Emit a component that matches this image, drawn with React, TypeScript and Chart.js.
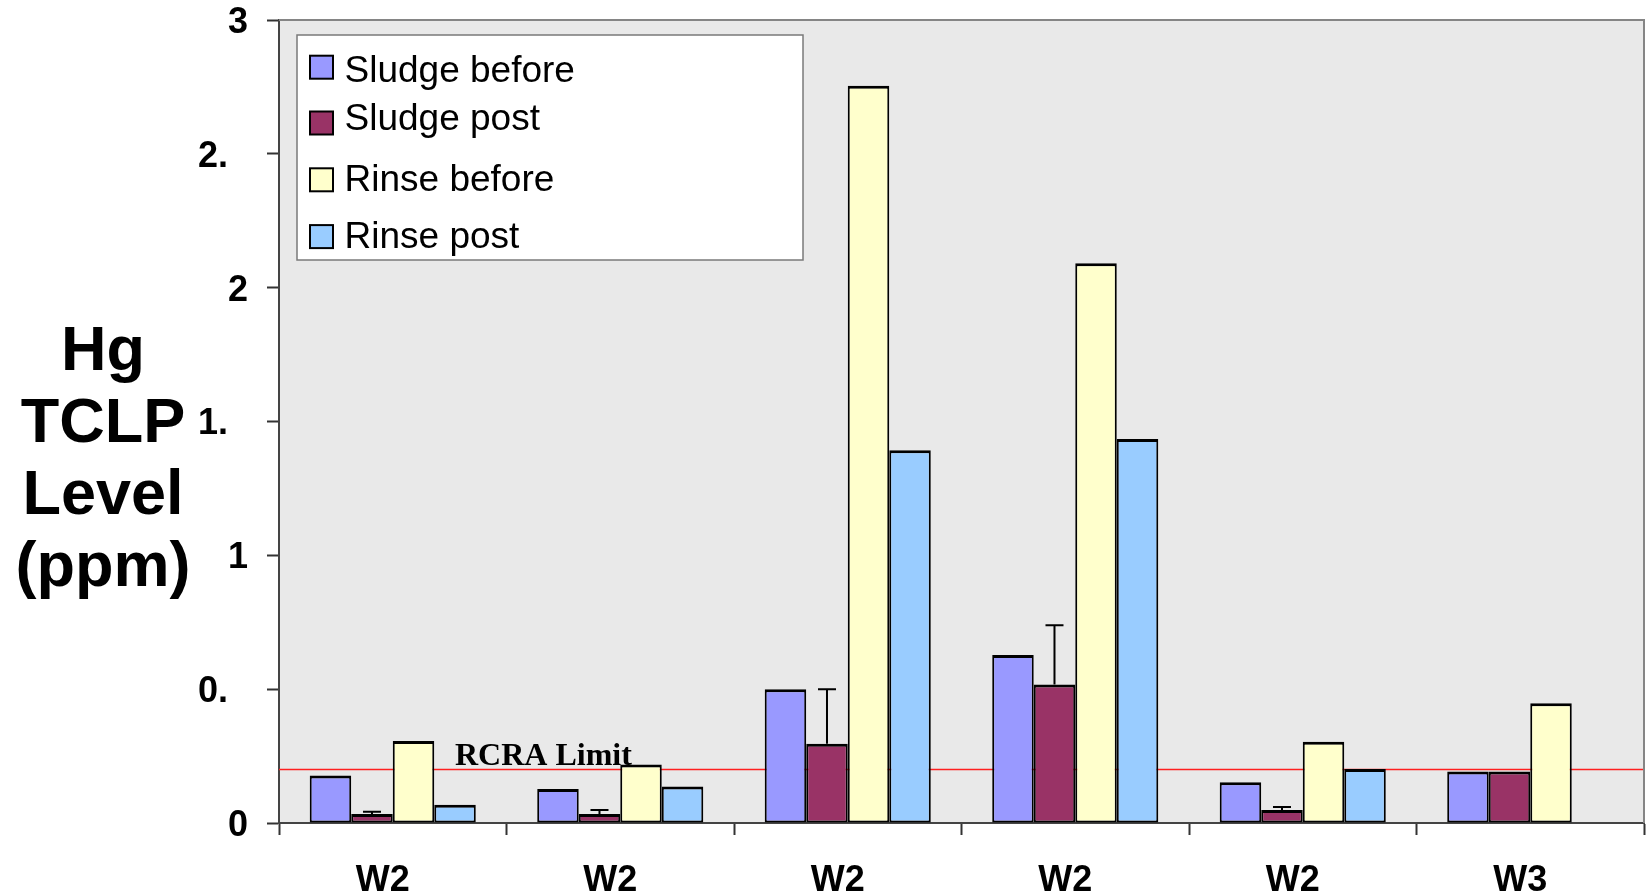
import React, { useEffect, useRef } from "react";
import { Chart, registerables } from "chart.js";

Chart.register(...registerables);

const CATEGORIES = ["W2", "W2", "W2", "W2", "W2", "W3"];
const SERIES_NAMES = ["Sludge before", "Sludge post", "Rinse before", "Rinse post"];
const SLUDGE_BEFORE = [0.177, 0.127, 0.5, 0.628, 0.152, 0.192];
const SLUDGE_POST = [0.034, 0.034, 0.296, 0.517, 0.049, 0.192];
const SLUDGE_POST_ERR = [0.008, 0.015, 0.204, 0.222, 0.011, 0];
const RINSE_BEFORE = [0.306, 0.219, 2.754, 2.091, 0.304, 0.447];
const RINSE_POST = [0.068, 0.136, 1.393, 1.435, 0.202, null];
const Y_TICK_LABELS = ["0", "0.", "1", "1.", "2", "2.", "3"];
const Y_TITLE_LINES = ["Hg", "TCLP", "Level", "(ppm)"];
const RCRA_LIMIT = 0.2;
const RCRA_LABEL = "RCRA Limit";

const COLORS = ["#9999FF", "#993366", "#FFFFCC", "#99CCFF"];
const SANS = "'Liberation Sans', Arial, sans-serif";
const SERIF = "'Liberation Serif', 'Times New Roman', serif";

const customPlugin = {
  id: "custom",
  beforeDraw(chart: any) {
    const { ctx, chartArea: ca } = chart;
    ctx.save();
    ctx.fillStyle = "#FFFFFF";
    ctx.fillRect(0, 0, chart.width, chart.height);
    ctx.fillStyle = "#E9E9E9";
    ctx.fillRect(ca.left, ca.top, ca.right - ca.left, ca.bottom - ca.top);
    ctx.restore();
  },
  beforeDatasetsDraw(chart: any) {
    const { ctx, chartArea: ca, scales } = chart;
    const y = scales.y.getPixelForValue(RCRA_LIMIT);
    ctx.save();
    ctx.strokeStyle = "#FF2020";
    ctx.lineWidth = 1.6;
    ctx.beginPath();
    ctx.moveTo(ca.left, y);
    ctx.lineTo(ca.right, y);
    ctx.stroke();
    ctx.restore();
  },
  afterDatasetsDraw(chart: any) {
    const { ctx, chartArea: ca, scales } = chart;
    // error bars on "Sludge post"
    const meta = chart.getDatasetMeta(1);
    ctx.save();
    ctx.strokeStyle = "#000000";
    ctx.lineWidth = 2;
    meta.data.forEach((bar: any, i: number) => {
      const err = SLUDGE_POST_ERR[i];
      if (!err) return;
      const top = scales.y.getPixelForValue(SLUDGE_POST[i] + err);
      ctx.beginPath();
      ctx.moveTo(bar.x, bar.y);
      ctx.lineTo(bar.x, top);
      ctx.moveTo(bar.x - 9, top);
      ctx.lineTo(bar.x + 9, top);
      ctx.stroke();
    });
    ctx.restore();

    // RCRA label
    const ry = scales.y.getPixelForValue(RCRA_LIMIT);
    ctx.save();
    ctx.fillStyle = "#000000";
    ctx.font = `bold 32px ${SERIF}`;
    ctx.textAlign = "left";
    ctx.textBaseline = "alphabetic";
    ctx.fillText(RCRA_LABEL, ca.left + 176, ry - 4);
    ctx.restore();

    // plot border top/right
    ctx.save();
    ctx.strokeStyle = "#858585";
    ctx.lineWidth = 2;
    ctx.beginPath();
    ctx.moveTo(ca.left, ca.top);
    ctx.lineTo(ca.right, ca.top);
    ctx.lineTo(ca.right, ca.bottom);
    ctx.stroke();
    ctx.restore();

    // legend
    const bx = ca.left + 18;
    const by = ca.top + 15;
    const bw = 506;
    const bh = 225;
    const swatchCenters = [32.2, 88, 144.8, 201.6];
    const textBaselines = [47.2, 95.4, 155.7, 212.5];
    ctx.save();
    ctx.fillStyle = "#FFFFFF";
    ctx.fillRect(bx, by, bw, bh);
    ctx.strokeStyle = "#7A7A7A";
    ctx.lineWidth = 1.5;
    ctx.strokeRect(bx, by, bw, bh);
    chart.data.datasets.forEach((ds: any, i: number) => {
      const cy = by + swatchCenters[i];
      ctx.fillStyle = ds.backgroundColor;
      ctx.fillRect(bx + 13, cy - 11.5, 23, 23);
      ctx.strokeStyle = "#000000";
      ctx.lineWidth = 2;
      ctx.strokeRect(bx + 13, cy - 11.5, 23, 23);
      ctx.fillStyle = "#000000";
      ctx.font = `37px ${SANS}`;
      ctx.textAlign = "left";
      ctx.textBaseline = "alphabetic";
      ctx.fillText(ds.label, bx + 47.5, by + textBaselines[i]);
    });
    ctx.restore();

    // y title
    const mid = (ca.top + ca.bottom) / 2;
    ctx.save();
    ctx.fillStyle = "#000000";
    ctx.font = `bold 63px ${SANS}`;
    ctx.textAlign = "center";
    ctx.textBaseline = "alphabetic";
    Y_TITLE_LINES.forEach((line, i) => {
      ctx.fillText(line, 103, mid - 52 + i * 72);
    });
    ctx.restore();
  },
};

export default function App() {
  const ref = useRef<HTMLCanvasElement | null>(null);

  useEffect(() => {
    document.body.style.margin = "0";
    const canvas = ref.current;
    if (!canvas) return;
    const seriesData = [SLUDGE_BEFORE, SLUDGE_POST, RINSE_BEFORE, RINSE_POST];
    const chart = new Chart(canvas, {
      type: "bar",
      data: {
        labels: CATEGORIES,
        datasets: SERIES_NAMES.map((name, i) => ({
          label: name,
          data: seriesData[i] as any,
          backgroundColor: COLORS[i],
          borderColor: "#000000",
          borderWidth: { top: 3, left: 2, right: 2, bottom: 2 },
          borderSkipped: false,
          categoryPercentage: 0.73,
          barPercentage: 1,
        })),
      },
      options: {
        responsive: false,
        animation: false,
        devicePixelRatio: 1,
        layout: { padding: { top: 0, right: 2, left: 0, bottom: 0 } },
        plugins: {
          legend: { display: false },
          tooltip: { enabled: false },
          title: { display: false },
        },
        scales: {
          x: {
            offset: true,
            grid: {
              offset: true,
              drawOnChartArea: false,
              drawTicks: true,
              tickLength: 12,
              tickColor: "#333333",
              tickWidth: 2,
            },
            border: { display: true, color: "#444444", width: 2 },
            ticks: {
              color: "#000000",
              font: { family: SANS, size: 36, weight: "bold" },
              padding: 24,
              maxRotation: 0,
              autoSkip: false,
              callback: (_v: any, index: number) => CATEGORIES[index] + "  ",
            },
            afterFit(scale: any) {
              scale.height = 73;
            },
          },
          y: {
            min: 0,
            max: 3,
            grid: {
              drawOnChartArea: false,
              drawTicks: true,
              tickLength: 12,
              tickColor: "#333333",
              tickWidth: 2,
            },
            border: { display: true, color: "#444444", width: 2 },
            ticks: {
              stepSize: 0.5,
              color: "#000000",
              font: { family: SANS, size: 36, weight: "bold" },
              padding: 19,
              labelOffset: 3,
              callback: (_v: any, index: number) => {
                const t = Y_TICK_LABELS[index] ?? "";
                return t.endsWith(".") ? t + "  " : t;
              },
            },
            afterFit(scale: any) {
              scale.width = 279;
              scale.paddingTop = 20;
              scale.paddingBottom = 0;
            },
          },
        },
      },
      plugins: [customPlugin],
    } as any);
    return () => chart.destroy();
  }, []);

  return (
    <div style={{ width: 1646, height: 896, position: "relative" }}>
      <canvas ref={ref} width={1646} height={896} style={{ display: "block" }} />
    </div>
  );
}
